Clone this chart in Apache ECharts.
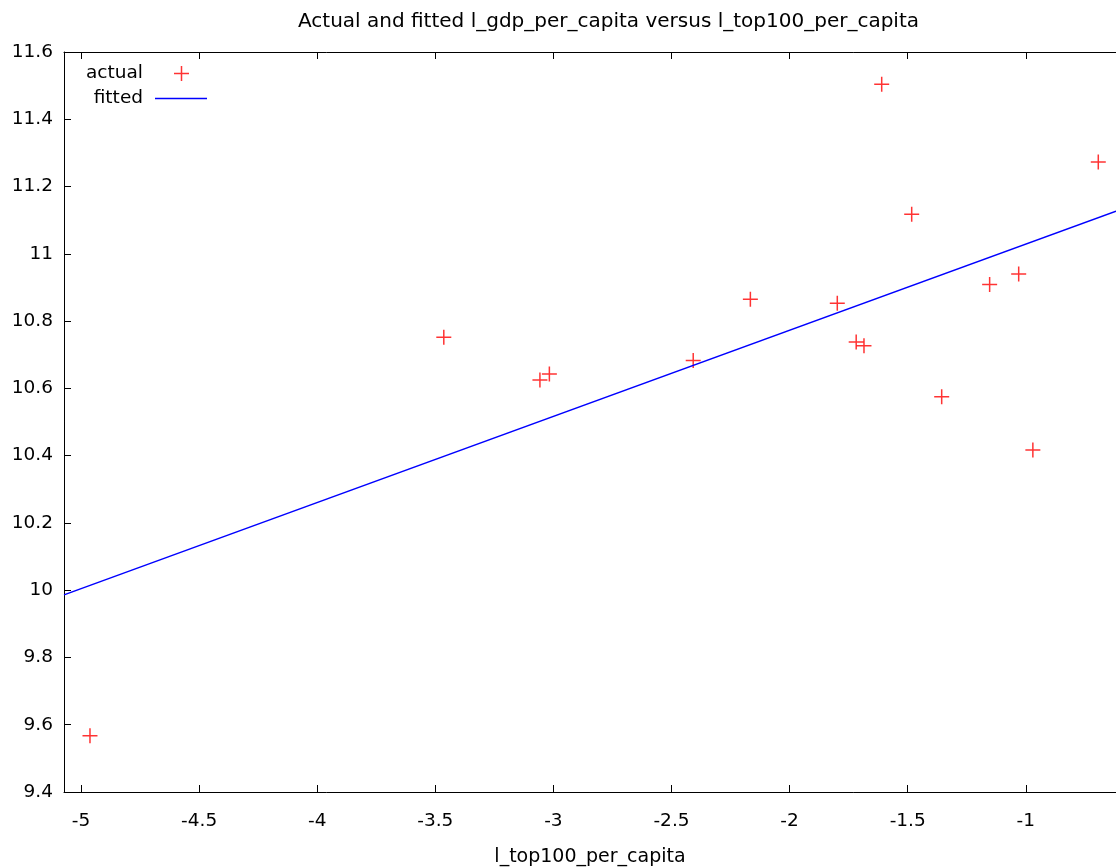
<!DOCTYPE html>
<html>
<head>
<meta charset="utf-8">
<script src="https://cdn.jsdelivr.net/npm/echarts@6/dist/echarts.min.js"></script>
<style>
html, body { margin: 0; padding: 0; background: #fff; }
#chart { width: 1116px; height: 868px; }
</style>
</head>
<body>
<div id="chart"></div>
<script>
// observed points
var actualX = [-4.962, -3.464, -3.057, -3.017, -2.408, -2.166, -1.798, -1.718, -1.685, -1.610, -1.483, -1.356, -1.153, -1.030, -0.970, -0.693];
var actualY = [9.567, 10.752, 10.625, 10.643, 10.683, 10.865, 10.853, 10.738, 10.727, 11.504, 11.118, 10.575, 10.909, 10.940, 10.417, 11.273];
// fitted line, read at both edges of the plot
var fittedX = [-5.072, -0.618];
var fittedY = [9.986, 11.127];
var xTicks = [-5, -4.5, -4, -3.5, -3, -2.5, -2, -1.5, -1];

var font = 'DejaVu Sans';
var plus = 'path://M0,6.75H15V8.25H0Z M6.75,0H8.25V15H6.75Z';
var dash = 'path://M0,0H52V1.5H0Z';

var chart = echarts.init(document.getElementById('chart'));

var option = {
  backgroundColor: '#fff',
  animation: false,
  title: {
    text: 'Actual and fitted l_gdp_per_capita versus l_top100_per_capita',
    left: 293, top: 7,
    textStyle: { fontFamily: font, fontSize: 20, fontWeight: 'normal', color: '#000' }
  },
  legend: [{
    data: [{ name: 'actual', icon: plus }],
    right: 927, top: 64, padding: 0,
    align: 'right', itemWidth: 15, itemHeight: 15,
    textStyle: { fontFamily: font, fontSize: 18.5, color: '#000', padding: [0, 26, 0, 0] }
  }, {
    data: [{ name: 'fitted', icon: dash }],
    right: 909, top: 89, padding: 0,
    align: 'right', itemWidth: 52, itemHeight: 1.5,
    textStyle: { fontFamily: font, fontSize: 18.5, color: '#000', padding: [0, 7, 0, 0] }
  }],
  grid: { left: 64, top: 52, right: 0, bottom: 76, outerBoundsMode: 'none' },
  xAxis: [{
    type: 'value', min: -5.072, max: -0.618,
    name: 'l_top100_per_capita', nameLocation: 'middle', nameGap: 56,
    nameTextStyle: { fontFamily: font, fontSize: 19, color: '#000' },
    axisLine: { onZero: false, lineStyle: { color: '#000', width: 1 } },
    axisTick: { inside: true, length: 7, customValues: xTicks, lineStyle: { color: '#000' } },
    axisLabel: { customValues: xTicks, margin: 20, fontFamily: font, fontSize: 18.5, color: '#000' },
    splitLine: { show: false }
  }, {
    type: 'value', position: 'top', min: -5.072, max: -0.618,
    axisLine: { onZero: false, lineStyle: { color: '#000', width: 1 } },
    axisTick: { inside: true, length: 7, customValues: xTicks, lineStyle: { color: '#000' } },
    axisLabel: { show: false },
    splitLine: { show: false }
  }],
  yAxis: {
    type: 'value', min: 9.4, max: 11.6, interval: 0.2,
    axisLine: { show: true, onZero: false, lineStyle: { color: '#000', width: 1 } },
    axisTick: { show: true, inside: true, length: 7, lineStyle: { color: '#000' } },
    axisLabel: { margin: 11, fontFamily: font, fontSize: 18.5, color: '#000',
      formatter: function (v) { return +v.toFixed(1) + ''; } },
    splitLine: { show: false }
  },
  series: [{
    name: 'actual', type: 'scatter',
    data: actualX.map(function (x, i) { return [x, actualY[i]]; }),
    symbol: plus, symbolSize: 15,
    itemStyle: { color: '#ff0000' }
  }, {
    name: 'fitted', type: 'line',
    data: fittedX.map(function (x, i) { return [x, fittedY[i]]; }),
    showSymbol: false, symbol: 'none',
    lineStyle: { color: '#0000ff', width: 1.5 },
    itemStyle: { color: '#0000ff' }
  }]
};

chart.setOption(option);
</script>
</body>
</html>
